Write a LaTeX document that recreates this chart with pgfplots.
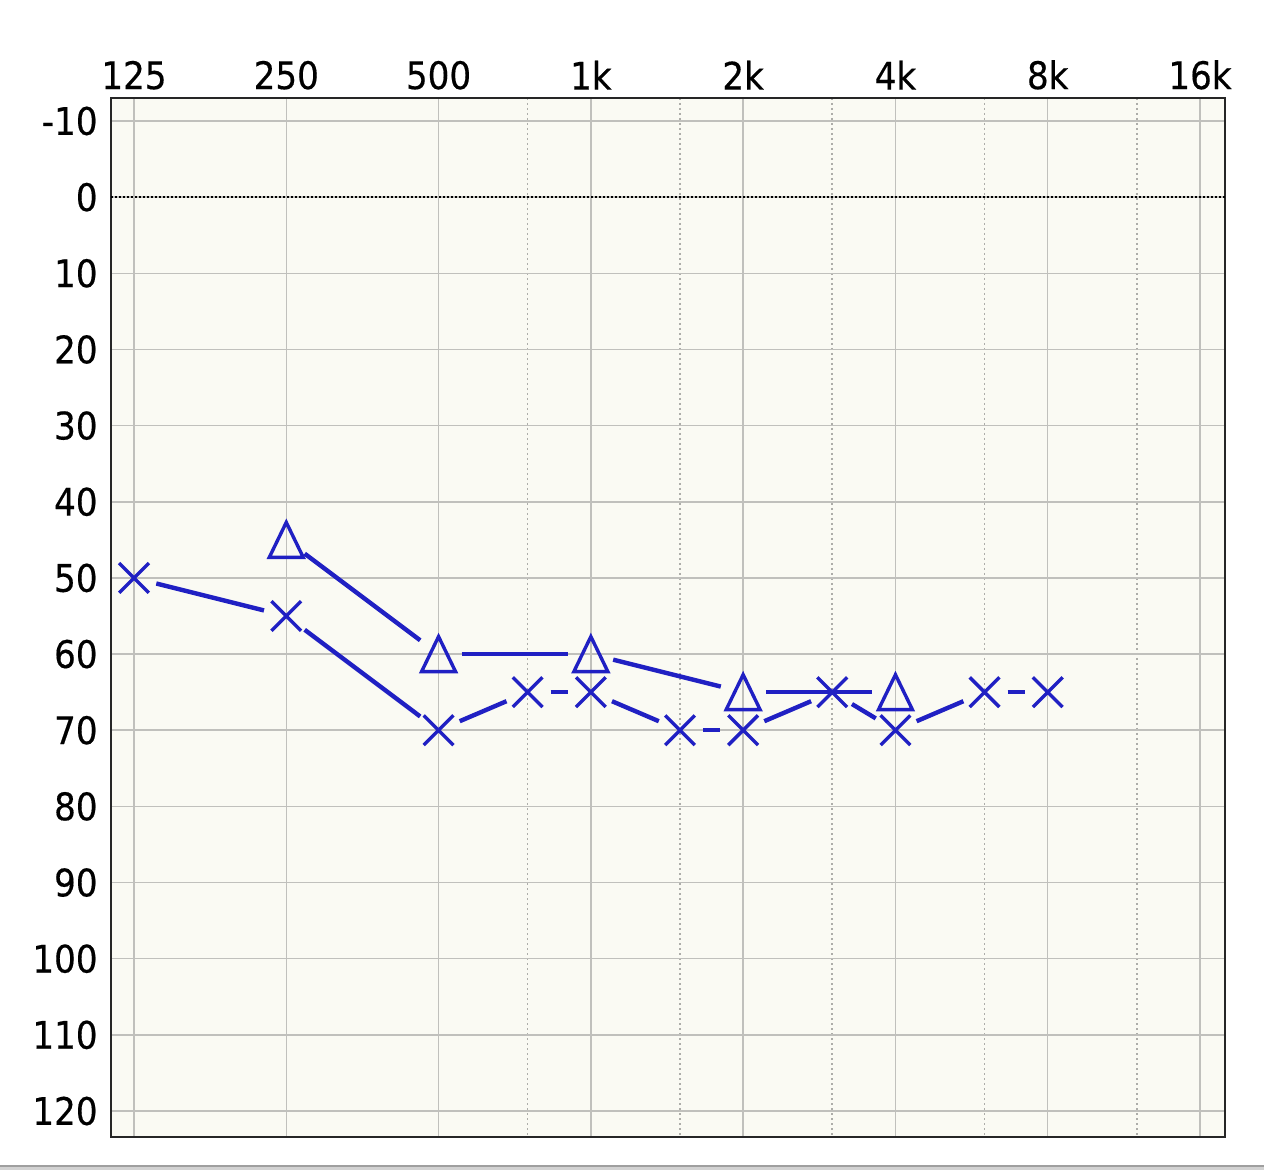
\documentclass[border=0pt]{standalone}
\usepackage{pgfplots}
\pgfplotsset{compat=1.18}
\usepackage{fontspec}
\setmainfont{DejaVu Sans Condensed}
\newfontfamily\tickfont[FakeBold=0.4]{DejaVu Sans Condensed}

\definecolor{audblue}{RGB}{32,32,195}
\definecolor{bgcream}{RGB}{250,250,243}
\definecolor{gridgray}{RGB}{192,192,188}

% open triangle, as wide as it is tall
\pgfdeclareplotmark{audtri}{%
  \pgfpathmoveto{\pgfqpoint{0pt}{\pgfplotmarksize}}%
  \pgfpathlineto{\pgfqpoint{-0.97\pgfplotmarksize}{-\pgfplotmarksize}}%
  \pgfpathlineto{\pgfqpoint{0.97\pgfplotmarksize}{-\pgfplotmarksize}}%
  \pgfpathclose
  \pgfusepathqstroke}

% one segment between two marks, with a gap at each end
\pgfplotsset{seg/.style={audblue, line width=2.2pt, mark=none,
    shorten <=11.5pt, shorten >=11.5pt}}

\begin{document}
\begin{tikzpicture}
\path[use as bounding box] (-55.5pt,-16.5pt) rectangle (576.5pt,568.5pt);
\begin{axis}[
  at={(0,0)}, anchor=south west,
  scale only axis, width=557pt, height=519.5pt,
  xmin=-0.151, xmax=7.164,
  ymin=-13.02, ymax=123.41, y dir=reverse,
  xtick={0,1,2,3,4,5,6,7},
  xticklabels={125,250,500,1k,2k,4k,8k,16k},
  xticklabel pos=upper,
  minor xtick={2.585,3.585,4.585,5.585,6.585}, % 750, 1.5k, 3k, 6k, 12k
  ytick={-10,0,10,20,30,40,50,60,70,80,90,100,110,120},
  yticklabels={-10,0,10,20,30,40,50,60,70,80,90,100,110,120},
  major tick length=0pt, minor tick length=0pt,
  xmajorgrids, xminorgrids, ymajorgrids,
  major grid style={gridgray, line width=0.75pt},
  minor grid style={gridgray!90!black, line width=0.75pt, dash pattern=on 1pt off 1.5pt},
  axis line style={black!85, line width=1pt},
  axis background/.style={fill=bgcream},
  ticklabel style={font=\tickfont\fontsize{19}{22}\selectfont, inner sep=0pt},
  xticklabel style={anchor=south, yshift=4pt},
  yticklabel style={anchor=east, xshift=-6.5pt},
]

% 0 dB line
\addplot[black, line width=1pt, dash pattern=on 1pt off 1pt] coordinates {(-0.151,0) (7.164,0)};

% crosses series
\addplot[seg] coordinates {(0,50) (1,55)};
\addplot[seg] coordinates {(1,55) (2,70)};
\addplot[seg] coordinates {(2,70) (2.585,65)};
\addplot[seg] coordinates {(2.585,65) (3,65)};
\addplot[seg] coordinates {(3,65) (3.585,70)};
\addplot[seg] coordinates {(3.585,70) (4,70)};
\addplot[seg] coordinates {(4,70) (4.585,65)};
\addplot[seg] coordinates {(4.585,65) (5,70)};
\addplot[seg] coordinates {(5,70) (5.585,65)};
\addplot[seg] coordinates {(5.585,65) (6,65)};

% triangles series
\addplot[seg] coordinates {(1,45) (2,60)};
\addplot[seg] coordinates {(2,60) (3,60)};
\addplot[seg] coordinates {(3,60) (4,65)};
\addplot[seg] coordinates {(4,65) (5,65)};

\addplot[only marks, mark=x, mark size=10.5pt, audblue,
  mark options={line width=1.7pt}] coordinates {
  (0,50) (1,55) (2,70) (2.585,65) (3,65) (3.585,70)
  (4,70) (4.585,65) (5,70) (5.585,65) (6,65)
};
\addplot[only marks, mark=audtri, mark size=8.75pt, audblue,
  mark options={line width=1.7pt}] coordinates {
  (1,45) (2,60) (3,60) (4,65) (5,65)
};
\end{axis}
\fill[gray!35] (-55.5pt,-16.5pt) rectangle (576.5pt,-14.5pt);
\draw[gray!75, line width=0.6pt] (-55.5pt,-14.5pt) -- (576.5pt,-14.5pt);
\end{tikzpicture}
\end{document}
